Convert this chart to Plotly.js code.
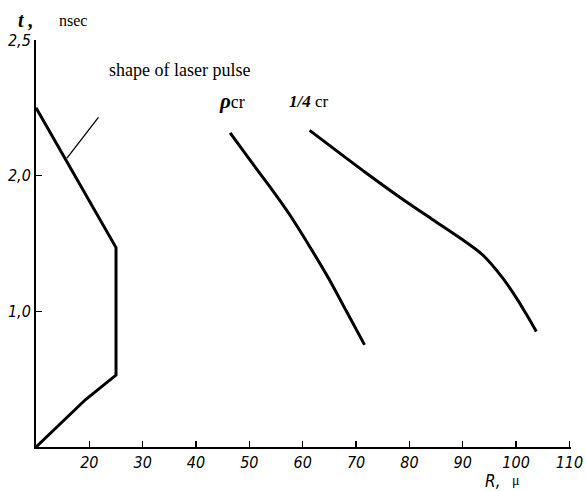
<!DOCTYPE html>
<html>
<head>
<meta charset="utf-8">
<script src="https://cdn.plot.ly/plotly-3.0.1.min.js"></script>
<style>html,body{margin:0;padding:0;background:#fff;}#chart{width:586px;height:491px;}</style>
</head>
<body>
<div id="chart"></div>
<script>
// Laser pulse shape (R in microns, t in nsec)
const pulseR = [10, 19.3, 25, 25, 10];
const pulseT = [0, 0.35, 0.53, 1.47, 2.5];
// pointer line from label to pulse
const pointerR = [15.8, 21.7];
const pointerT = [2.13, 2.43];
// rho_cr curve
const rhoR = [46.4, 50.2, 53.8, 57.6, 61.3, 64.9, 68.2, 71.6];
const rhoT = [2.315, 2.11, 1.921, 1.71, 1.478, 1.24, 1.0, 0.753];
// 1/4 cr curve
const quarterR = [61.3, 71.9, 78.6, 84.4, 89.5, 93.7, 97.4, 100.2, 101.8, 103.8];
const quarterT = [2.334, 2.02, 1.83, 1.675, 1.54, 1.417, 1.25, 1.09, 0.987, 0.851];
// ticks
const xTicks = [20, 30, 40, 50, 60, 70, 80, 90, 100, 110];
const xTickText = ['20', '30', '40', '50', '60', '70', '80', '90', '100', '110'];
const yTicks = [1, 2, 3];
const yTickText = ['1,0', '2,0', '2,5'];

const numFont = {family: '"DejaVu Sans Condensed", "Liberation Sans Narrow", Arial, sans-serif', size: 16, color: '#000', style: 'italic'};
const serif = '"Liberation Serif", "DejaVu Serif", serif';

const traces = [
  {x: pulseR, y: pulseT, mode: 'lines', line: {color: '#000', width: 3}, hoverinfo: 'skip'},
  {x: pointerR, y: pointerT, mode: 'lines', line: {color: '#000', width: 1.3}, hoverinfo: 'skip'},
  {x: rhoR, y: rhoT, mode: 'lines', line: {color: '#000', width: 3, shape: 'spline', smoothing: 0.8}, hoverinfo: 'skip'},
  {x: quarterR, y: quarterT, mode: 'lines', line: {color: '#000', width: 3, shape: 'spline', smoothing: 0.8}, hoverinfo: 'skip'}
];

const layout = {
  width: 586, height: 491,
  margin: {l: 35.5, r: 14.5, t: 40, b: 44},
  paper_bgcolor: '#fff', plot_bgcolor: '#fff',
  showlegend: false,
  xaxis: {
    range: [10, 110.3], showgrid: false, zeroline: false,
    showline: true, linecolor: '#000', linewidth: 2,
    ticks: 'inside', ticklen: 6, tickwidth: 1.5, tickcolor: '#000',
    tickvals: xTicks, ticktext: xTickText, tickfont: numFont
  },
  yaxis: {
    range: [0, 3.0], showgrid: false, zeroline: false,
    showline: true, linecolor: '#000', linewidth: 2,
    ticks: 'inside', ticklen: 6, tickwidth: 1.5, tickcolor: '#000',
    tickvals: yTicks, ticktext: yTickText, tickfont: numFont
  },
  annotations: [
    {x: 23.4, y: 2.777, xref: 'x', yref: 'y', xanchor: 'left', yanchor: 'middle', showarrow: false,
     text: 'shape of laser pulse', font: {family: serif, size: 18, color: '#000'}},
    {x: 44.0, y: 2.55, xref: 'x', yref: 'y', xanchor: 'left', yanchor: 'middle', showarrow: false,
     text: '<b><i><span style="font-size:21px">ρ</span></i></b>cr', font: {family: serif, size: 18, color: '#000'}},
    {x: 57.0, y: 2.55, xref: 'x', yref: 'y', xanchor: 'left', yanchor: 'middle', showarrow: false,
     text: '<b><i>1/4</i></b> cr', font: {family: serif, size: 17, color: '#000'}},
    {x: -0.038, y: 1.048, xref: 'paper', yref: 'paper', xanchor: 'left', yanchor: 'middle', showarrow: false,
     text: '<b><i>t ,</i></b>', font: {family: serif, size: 20, color: '#000'}},
    {x: 0.040, y: 1.048, xref: 'paper', yref: 'paper', xanchor: 'left', yanchor: 'middle', showarrow: false,
     text: 'nsec', font: {family: serif, size: 16, color: '#000'}},
    {x: 0.854, y: -0.083, xref: 'paper', yref: 'paper', xanchor: 'center', yanchor: 'middle', showarrow: false,
     text: '<i>R,</i>', font: {family: '"DejaVu Sans Condensed", sans-serif', size: 17, color: '#000'}},
    {x: 0.898, y: -0.083, xref: 'paper', yref: 'paper', xanchor: 'center', yanchor: 'middle', showarrow: false,
     text: 'μ', font: {family: serif, size: 14, color: '#000'}}
  ]
};

Plotly.newPlot('chart', traces, layout, {staticPlot: true, displayModeBar: false});
</script>
</body>
</html>
